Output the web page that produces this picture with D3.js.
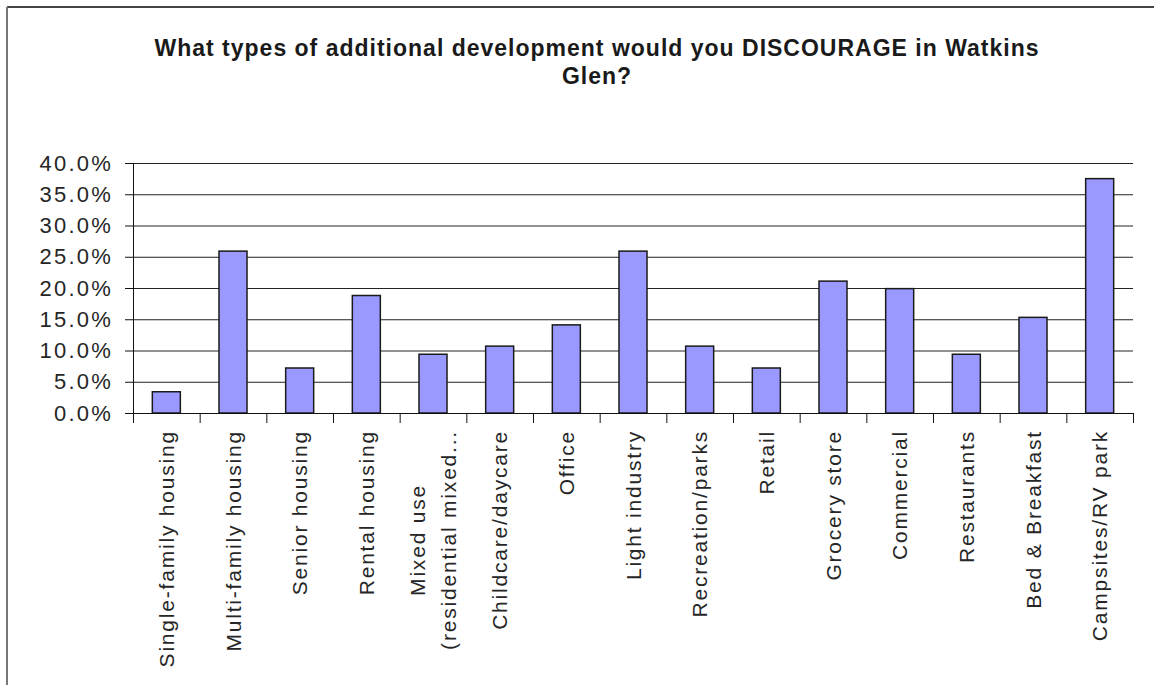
<!DOCTYPE html>
<html>
<head>
<meta charset="utf-8">
<script src="https://cdn.jsdelivr.net/npm/d3@7"></script>
<style>
  body { margin: 0; background: #fff; }
  text { font-family: Arial, "Liberation Sans", sans-serif; }
</style>
</head>
<body>
<div id="chart"></div>
<script>
// chart data
var categories = ["Single-family housing", "Multi-family housing", "Senior housing",
  "Rental housing", "Mixed use (residential mixed...", "Childcare/daycare", "Office",
  "Light industry", "Recreation/parks", "Retail", "Grocery store", "Commercial",
  "Restaurants", "Bed & Breakfast", "Campsites/RV park"];
var values = [3.4, 25.9, 7.2, 18.8, 9.4, 10.7, 14.1, 25.9, 10.7, 7.2, 21.1, 19.9, 9.4, 15.3, 37.5];
var yTicks = [0, 5, 10, 15, 20, 25, 30, 35, 40];
// wrapped label lines (Excel wraps the long one)
var labelLines = { "Mixed use (residential mixed...": ["Mixed use", "(residential mixed..."] };

var width = 1154, height = 685;
var margin = {top: 163, left: 133, right: 21, bottom: 272};
var plotW = width - margin.left - margin.right,
    plotH = height - margin.top - margin.bottom;

var svg = d3.select("#chart").append("svg")
    .attr("width", width)
    .attr("height", height);

// frame of the pasted chart
svg.append("line").attr("x1", 7).attr("x2", width).attr("y1", 7).attr("y2", 7)
    .attr("stroke", "#444").attr("stroke-width", 2);
svg.append("line").attr("x1", 7).attr("x2", 7).attr("y1", 7).attr("y2", height)
    .attr("stroke", "#777").attr("stroke-width", 2);

// title
var title = svg.append("text")
    .attr("text-anchor", "middle")
    .style("font-size", "23px")
    .style("font-weight", "bold")
    .style("letter-spacing", "1px")
    .attr("fill", "#1a1a1a");
title.append("tspan").attr("x", 597).attr("y", 56)
    .text("What types of additional development would you DISCOURAGE in Watkins");
title.append("tspan").attr("x", 597).attr("y", 84).text("Glen?");

var g = svg.append("g").attr("transform", "translate(" + margin.left + "," + margin.top + ")");

var x = d3.scaleBand().domain(categories).range([0, plotW])
    .paddingInner(0.58).paddingOuter(0.29);
var y = d3.scaleLinear().domain([0, 40]).range([plotH, 0]);

// gridlines
g.append("g")
    .call(d3.axisLeft(y).tickValues(yTicks).tickSize(-plotW).tickFormat(""))
    .call(function(s) {
      s.select(".domain").remove();
      s.selectAll("line").attr("stroke", "#222");
    });

// bars
g.selectAll("rect.bar")
    .data(values)
    .enter().append("rect")
    .attr("class", "bar")
    .attr("x", function(d, i) { return x(categories[i]); })
    .attr("width", x.bandwidth())
    .attr("y", function(d) { return y(d); })
    .attr("height", function(d) { return plotH - y(d); })
    .attr("fill", "#9999ff")
    .attr("stroke", "#1a1a1a")
    .attr("stroke-width", 1.5);

// y axis
g.append("g")
    .call(d3.axisLeft(y).tickValues(yTicks).tickSize(8).tickSizeOuter(0).tickPadding(12)
      .tickFormat(function(d) { return d.toFixed(1) + "%"; }))
    .call(function(s) {
      s.select(".domain").attr("stroke", "#111");
      s.selectAll("line").attr("stroke", "#111");
      s.selectAll("text")
        .style("font-size", "22px")
        .style("letter-spacing", "2.2px")
        .attr("fill", "#262626");
    });

// x axis ticks at category boundaries
var xb = d3.scaleLinear().domain([0, categories.length]).range([0, plotW]);
g.append("g")
    .attr("transform", "translate(0," + plotH + ")")
    .call(d3.axisBottom(xb).tickValues(d3.range(categories.length + 1)).tickSize(10).tickFormat(""))
    .call(function(s) {
      s.select(".domain").attr("stroke", "#111");
      s.selectAll("line").attr("stroke", "#111");
    });

// rotated category labels
var labelTop = plotH + 17;
categories.forEach(function(c, i) {
  var lines = labelLines[c] || [c];
  var cx = x(c) + x.bandwidth() / 2;
  var lg = g.append("g");
  var texts = lines.map(function(t, k) {
    return lg.append("text")
      .attr("text-anchor", "middle")
      .attr("dominant-baseline", "central")
      .style("font-size", "21px")
      .style("letter-spacing", "1.8px")
      .attr("fill", "#262626")
      .text(t);
  });
  var maxLen = d3.max(texts, function(t) { return t.node().getComputedTextLength(); });
  var lh = 31;
  texts.forEach(function(t, k) {
    var off = (k - (lines.length - 1) / 2) * lh;
    var ty = labelTop + maxLen / 2;
    t.attr("transform", "translate(" + (cx + off) + "," + ty + ") rotate(-90)");
  });
});
</script>
</body>
</html>
